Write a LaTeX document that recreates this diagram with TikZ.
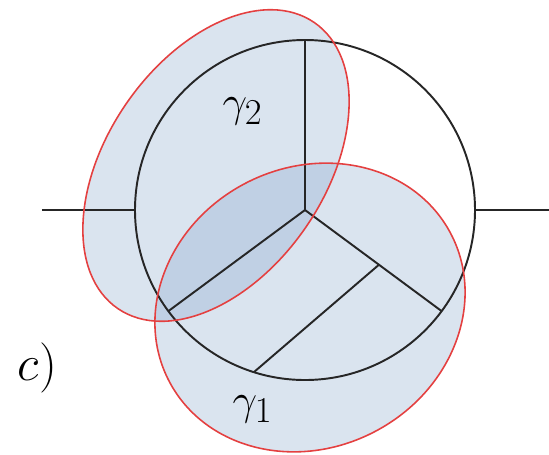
\documentclass[tikz,border=0pt]{standalone}
\usepackage{amsmath}
\usepackage{tikz}
\usetikzlibrary{positioning}

\definecolor{loopfill}{RGB}{133,164,203}
\definecolor{loopred}{RGB}{228,64,64}

\begin{document}
\begin{tikzpicture}[
    graphline/.style={line width=1.1pt, black!85},
    loopline/.style={draw=loopred, line width=0.9pt},
    loopshade/.style={fill=loopfill, fill opacity=0.3},
    lbl/.style={font=\Huge}
  ]
  \useasboundingbox (-6.1,4.2) rectangle (4.88,-4.88);
  % centres of the two loops
  \coordinate (g2c) at (-1.78,0.89);
  \coordinate (g1c) at (0.10,-1.95);
  \fill[loopshade, rotate around={55.5:(g2c)}] (g2c) ellipse (3.47 and 2.18);
  \fill[loopshade, rotate around={27.8:(g1c)}] (g1c) ellipse (3.18 and 2.80);
  % the graph
  \coordinate (o) at (0,0);
  \coordinate (top) at (90:3.4);
  \coordinate (ll) at (216.5:3.4);
  \coordinate (lr) at (-36.5:3.4);
  \coordinate (mid) at (-36.5:1.84);
  \coordinate (bot) at (252.5:3.4);
  \coordinate (wl) at (-3.4,0);
  \coordinate (wr) at (3.4,0);
  \coordinate (el) at (-5.26,0);
  \coordinate (er) at (4.88,0);
  \draw[graphline] (o) circle (3.4);
  \draw[graphline] (el) -- (wl);
  \draw[graphline] (wr) -- (er);
  \draw[graphline] (o) -- (top);
  \draw[graphline] (o) -- (ll);
  \draw[graphline] (o) -- (lr);
  \draw[graphline] (mid) -- (bot);
  % loop outlines
  \draw[loopline, rotate around={55.5:(g2c)}] (g2c) ellipse (3.47 and 2.18);
  \draw[loopline, rotate around={27.8:(g1c)}] (g1c) ellipse (3.18 and 2.80);
  \node[lbl] (gam2) at (-1.25,1.98) {$\gamma_2$};
  \node[lbl] (gam1) at (-1.05,-3.98) {$\gamma_1$};
  \node[lbl, scale=1.15] (tag) at (-5.35,-3.16) {$c)$};
\end{tikzpicture}
\end{document}
